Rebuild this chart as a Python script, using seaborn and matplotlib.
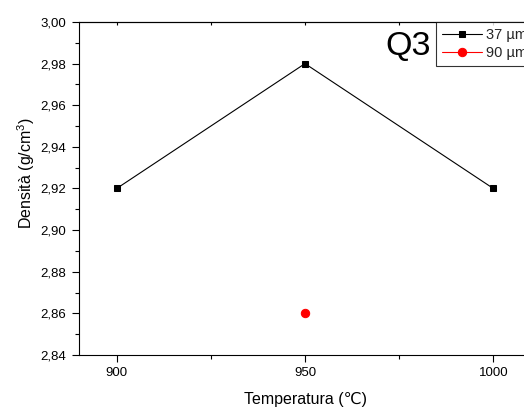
import matplotlib
matplotlib.use("Agg")
import matplotlib.pyplot as plt
import seaborn as sns
import pandas as pd
from matplotlib.ticker import MultipleLocator, FuncFormatter, NullFormatter

temp_37 = [900, 950, 1000]
dens_37 = [2.92, 2.98, 2.92]
temp_90 = [950]
dens_90 = [2.86]
labels = ["37 µm", "90 µm"]

sns.set_theme(style="ticks")
plt.rcParams['font.family'] = ['Liberation Sans', 'DejaVu Sans']
plt.rcParams['mathtext.fontset'] = 'custom'
plt.rcParams['mathtext.rm'] = 'Liberation Sans'

fig = plt.figure(figsize=(5.24, 4.07), dpi=100)
ax = fig.add_axes([79/524, 1-355/407, (531-79)/524, (355-22)/407])

df37 = pd.DataFrame({"T": temp_37, "D": dens_37})
df90 = pd.DataFrame({"T": temp_90, "D": dens_90})
sns.lineplot(data=df37, x="T", y="D", ax=ax, color="black", marker="s", markersize=5,
             markeredgecolor="black", linewidth=0.8, label=labels[0])
sns.lineplot(data=df90, x="T", y="D", ax=ax, color="red", marker="o", markersize=6,
             markeredgecolor="red", linewidth=0.8, label=labels[1])

ax.set_xlim(890, 1010)
ax.set_ylim(2.84, 3.00)
ax.xaxis.set_major_locator(MultipleLocator(50))
ax.xaxis.set_minor_locator(MultipleLocator(25))
ax.yaxis.set_major_locator(MultipleLocator(0.02))
ax.yaxis.set_minor_locator(MultipleLocator(0.01))
ax.yaxis.set_major_formatter(FuncFormatter(lambda v, p: f"{v:.2f}".replace(".", ",")))
ax.xaxis.set_major_formatter(FuncFormatter(lambda v, p: f"{v:.0f}"))
ax.tick_params(axis="both", which="major", direction="out", length=5, width=0.8, pad=4,
               labelsize=9.5, color="black", labelcolor="black")
ax.tick_params(axis="both", which="minor", direction="out", length=3, width=0.8, color="black")
for s in ax.spines.values():
    s.set_color("black")
    s.set_linewidth(0.8)
ax.spines["right"].set_visible(False)

sec = ax.secondary_xaxis("top")
sec.xaxis.set_major_locator(MultipleLocator(50))
sec.xaxis.set_minor_locator(MultipleLocator(25))
sec.xaxis.set_major_formatter(NullFormatter())
sec.tick_params(axis="x", which="both", direction="in", length=2, width=0.8, color="black")
sec.spines["top"].set_color("black")
sec.spines["top"].set_linewidth(0.8)

ax.set_xlabel("Temperatura (℃)", fontsize=11.5, color="black", labelpad=9)
ax.set_ylabel("Densità (g/cm$^3$)", fontsize=11.5, color="black")
ax.yaxis.set_label_coords((37-79)/452, (355-173)/333)

leg = ax.legend(loc="upper left", bbox_to_anchor=(436/524, 1-22/407), bbox_transform=fig.transFigure,
                borderaxespad=0, fontsize=10.5, frameon=True, fancybox=False, handlelength=2.75,
                handletextpad=0.27, borderpad=0.4, labelspacing=0.3)
leg.get_frame().set_edgecolor("black")
leg.get_frame().set_linewidth(0.8)

fig.text(385/524, 1-55/407, "Q3", fontsize=24.5, ha="left", va="baseline", color="black")

fig.savefig("out.png", dpi=100)
